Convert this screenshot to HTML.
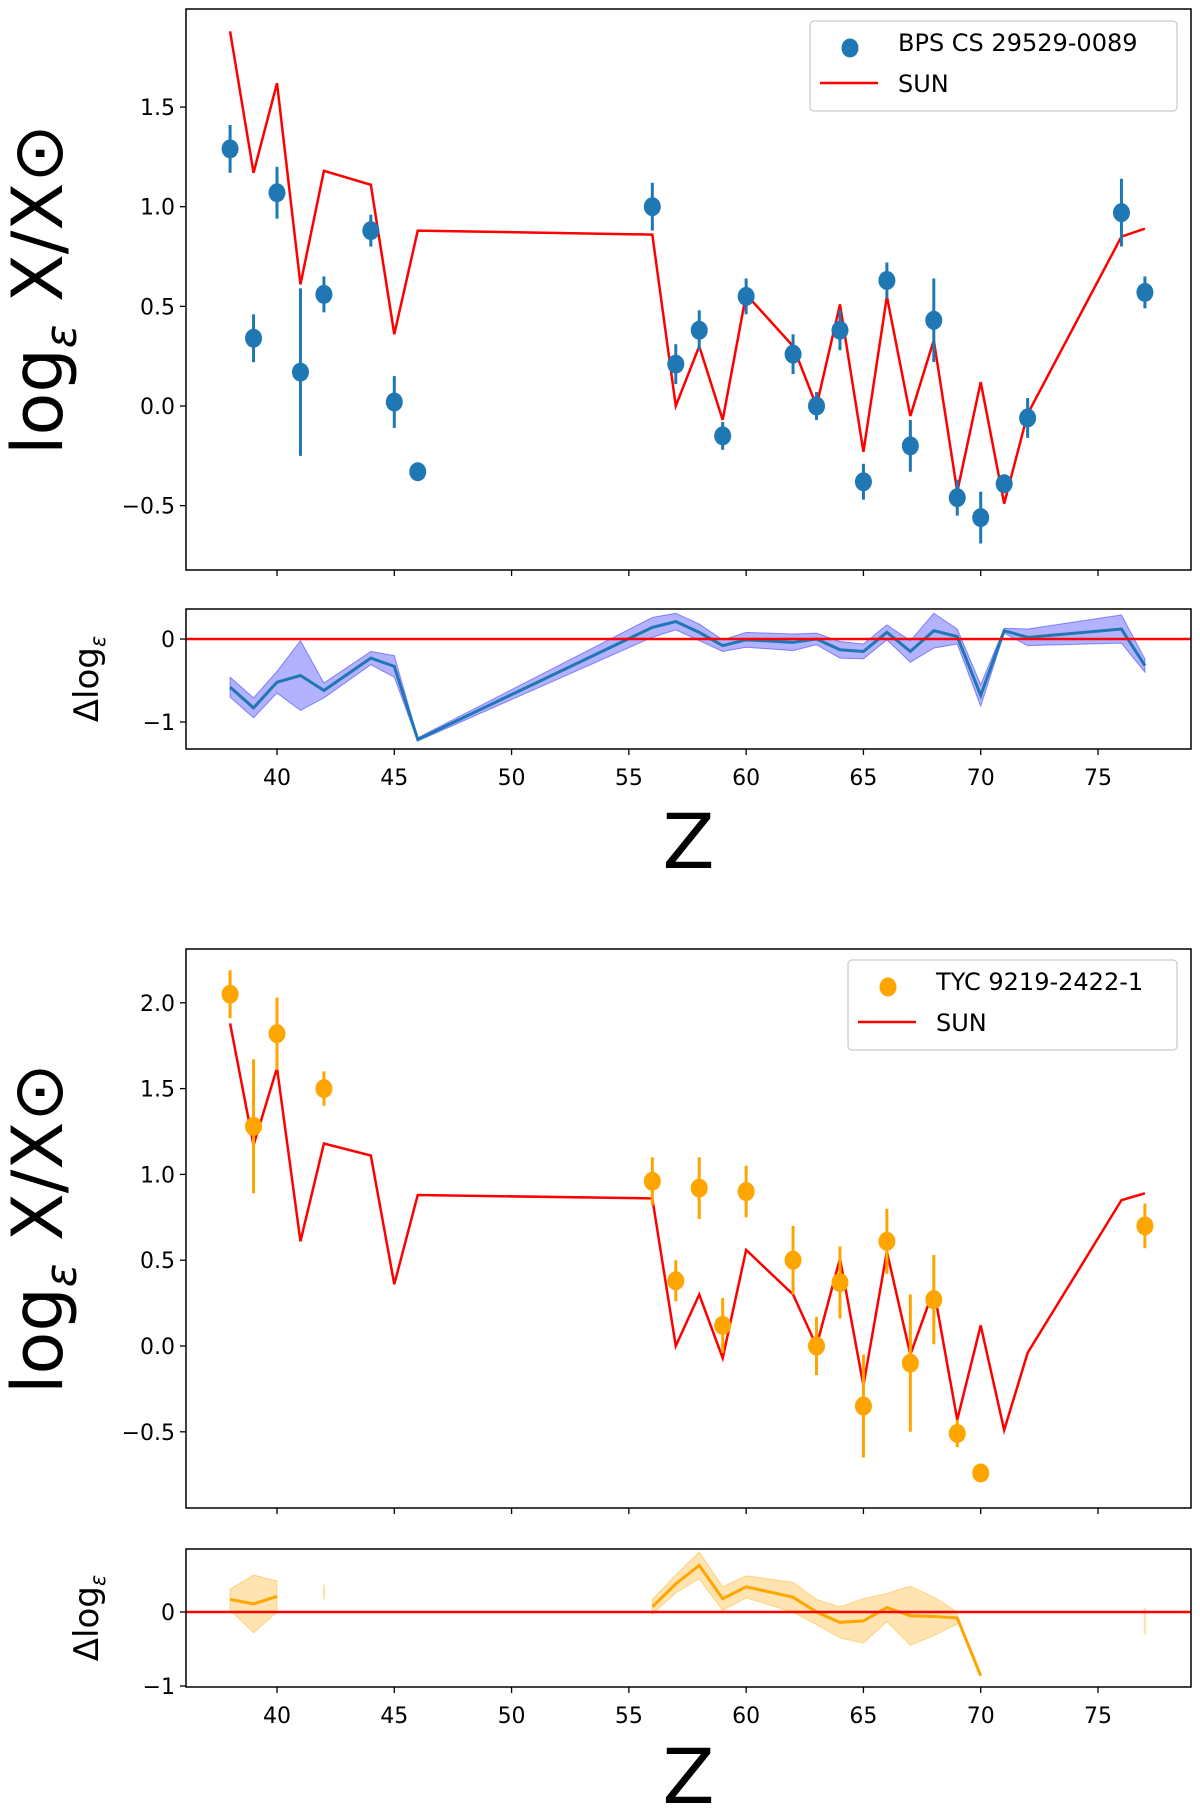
<!DOCTYPE html>
<html><head><meta charset="utf-8"><style>
html,body{margin:0;padding:0;background:#fff;}
svg{display:block;font-family:"DejaVu Sans","Liberation Sans",sans-serif;}
</style></head><body>
<svg id="chart" width="1200" height="1809" viewBox="0 0 1200 1809" xmlns="http://www.w3.org/2000/svg"></svg>
<script>
// ---- shared data ----
const zVals = [38,39,40,41,42,44,45,46,56,57,58,59,60,62,63,64,65,66,67,68,69,70,71,72,76,77];
const sunVals = [1.88,1.17,1.62,0.61,1.18,1.11,0.36,0.88,0.86,0.00,0.30,-0.07,0.56,0.30,0.00,0.51,-0.23,0.55,-0.05,0.33,-0.43,0.12,-0.49,-0.04,0.85,0.89];
const xTicks = [40,45,50,55,60,65,70,75];
// ---- star 1 (blue) ----
const s1Z = [38,39,40,41,42,44,45,46,56,57,58,59,60,62,63,64,65,66,67,68,69,70,71,72,76,77];
const s1Vals = [1.29,0.34,1.07,0.17,0.56,0.88,0.02,-0.33,1.00,0.21,0.38,-0.15,0.55,0.26,0.00,0.38,-0.38,0.63,-0.20,0.43,-0.46,-0.56,-0.39,-0.06,0.97,0.57];
const s1Err = [0.12,0.12,0.13,0.42,0.09,0.08,0.13,0.02,0.12,0.10,0.10,0.07,0.09,0.10,0.07,0.10,0.09,0.09,0.13,0.21,0.09,0.13,0.03,0.10,0.17,0.08];
const s1Res = [-0.58,-0.83,-0.52,-0.44,-0.62,-0.23,-0.33,-1.21,0.14,0.21,0.08,-0.08,-0.01,-0.04,0.00,-0.13,-0.15,0.08,-0.15,0.10,0.03,-0.68,0.10,0.02,0.12,-0.32];
const s1ResErr = [0.12,0.12,0.13,0.42,0.09,0.08,0.13,0.02,0.12,0.10,0.10,0.07,0.09,0.10,0.07,0.10,0.09,0.09,0.13,0.21,0.09,0.13,0.03,0.10,0.17,0.08];
const s1Ticks = [-0.5,0.0,0.5,1.0,1.5];
// ---- star 2 (orange) ----
const s2Z = [38,39,40,42,56,57,58,59,60,62,63,64,65,66,67,68,69,70,77];
const s2Vals = [2.05,1.28,1.82,1.50,0.96,0.38,0.92,0.12,0.90,0.50,0.00,0.37,-0.35,0.61,-0.10,0.27,-0.51,-0.74,0.70];
const s2Err = [0.14,0.39,0.21,0.10,0.14,0.12,0.18,0.16,0.15,0.20,0.17,0.21,0.30,0.19,0.40,0.26,0.08,0.05,0.13];
const s2ResZ = [38,39,40,null,42,null,56,57,58,59,60,62,63,64,65,66,67,68,69,70,null,77];
const s2Res = [0.17,0.11,0.21,null,0.27,null,0.07,0.38,0.63,0.18,0.34,0.20,0.00,-0.14,-0.12,0.06,-0.05,-0.06,-0.08,-0.86,null,-0.12];
const s2ResErr = [0.14,0.39,0.21,null,0.10,null,0.10,0.12,0.18,0.16,0.15,0.20,0.17,0.21,0.30,0.19,0.40,0.26,0.08,0,null,0.18];
const s2Ticks = [-0.5,0.0,0.5,1.0,1.5,2.0];
const resTicks = [-1,0];

const NS="http://www.w3.org/2000/svg";
const svg=document.getElementById('chart');
function mk(tag,attrs,parent){const e=document.createElementNS(NS,tag);for(const k in attrs)e.setAttribute(k,attrs[k]);(parent||svg).appendChild(e);return e;}
const X0=186,X1=1191;
function xs(z){return 277+(z-40)*(1098-277)/35;}

function yAxis(g,ticks,ys,fmt){
  ticks.forEach(t=>{const y=ys(t);
    const tk=mk('line',{x1:X0-6,x2:X0,y1:y,y2:y,stroke:'#000','stroke-width':1.3},g);
    
    const tx=mk('text',{x:X0-11,y:y+8,'font-size':22,'text-anchor':'end',fill:'#000'},g);
    tx.textContent=fmt(t);});
}
function xAxis(g,yb,labels){
  xTicks.forEach(t=>{const x=xs(t);
    const tk=mk('line',{x1:x,x2:x,y1:yb,y2:yb+6,stroke:'#000','stroke-width':1.3},g);
    
    if(labels){const tx=mk('text',{x:x,y:yb+36,'font-size':22,'text-anchor':'middle',fill:'#000'},g);
      tx.textContent=t;}});
}
function fmtNum2(t){const s=Math.abs(t).toFixed(1);return t<0?'\u2212'+s:s;}
function fmtInt(t){return t<0?'\u2212'+Math.abs(t):''+t;}

function mainPanel(name,top,bot,yZero,yUnit,ticks,sz,vals,errs,color,legendLabel,lg){
  const g=mk('g',{});
  const ys=v=>yZero-v*yUnit;
  mk('defs',{},g).innerHTML=`<clipPath id="clip-${name}"><rect x="${X0}" y="${top}" width="${X1-X0}" height="${bot-top}"/></clipPath>`;
  const pg=mk('g',{'clip-path':`url(#clip-${name})`},g);
  const sun=mk('polyline',{points:zVals.map((z,i)=>xs(z)+','+ys(sunVals[i])).join(' '),fill:'none',stroke:'#ff0000','stroke-width':2.5},pg);
  
  sz.forEach((z,i)=>{
    const eb=mk('line',{x1:xs(z),x2:xs(z),y1:ys(vals[i]-errs[i]),y2:ys(vals[i]+errs[i]),stroke:color,'stroke-width':3},pg);
    
    const c=mk('ellipse',{cx:xs(z),cy:ys(vals[i]),rx:8.5,ry:9.5,fill:color},pg);
    
  });
  const fr=mk('rect',{x:X0,y:top,width:X1-X0,height:bot-top,fill:'none',stroke:'#000','stroke-width':1.5},g);
  
  yAxis(g,ticks,ys,fmtNum2);xAxis(g,bot,false);
  const lgG=mk('g',{},g);
  const lb=mk('rect',{x:lg[0],y:lg[1],width:lg[2],height:lg[3],rx:4,fill:'#fff',stroke:'#ccc','stroke-width':1.3},lgG);
  
  const m=mk('ellipse',{cx:lg[0]+40,cy:lg[1]+27,rx:8.5,ry:9.5,fill:color},lgG);
  
  const t1=mk('text',{x:lg[0]+88,y:lg[1]+30,'font-size':24,fill:'#000'},lgG);t1.textContent=legendLabel;
  
  const l2=mk('line',{x1:lg[0]+10,x2:lg[0]+68,y1:lg[1]+62,y2:lg[1]+62,stroke:'#ff0000','stroke-width':2.5},lgG);
  
  const t2=mk('text',{x:lg[0]+88,y:lg[1]+71,'font-size':24,fill:'#000'},lgG);t2.textContent='SUN';
  
  const yl=mk('text',{x:0,y:0,'font-size':70,'text-anchor':'middle',fill:'#000',transform:`translate(62,${(top+bot)/2}) rotate(-90)`},g);
  yl.innerHTML='log<tspan font-size="44" dy="14" font-style="italic">\u03b5</tspan><tspan dy="-14"> X/X\u2299</tspan>';
  
}

function resPanel(name,top,bot,yZero,yUnit,rz,rv,re,lineColor,fillColor,fillOp,zLabelY){
  const g=mk('g',{});
  const ys=v=>yZero-v*yUnit;
  mk('defs',{},g).innerHTML=`<clipPath id="clip-${name}"><rect x="${X0}" y="${top}" width="${X1-X0}" height="${bot-top}"/></clipPath>`;
  const pg=mk('g',{'clip-path':`url(#clip-${name})`},g);
  const segs=[];let cur=[];
  rz.forEach((z,i)=>{if(z===null){if(cur.length)segs.push(cur);cur=[];}else cur.push(i);});
  if(cur.length)segs.push(cur);
  segs.forEach(s=>{
    const hasBand=s.filter(i=>re[i]>0);
    if(s.length===1){const i=s[0];
      const b=mk('line',{x1:xs(rz[i]),x2:xs(rz[i]),y1:ys(rv[i]-re[i]),y2:ys(rv[i]+re[i]),stroke:fillColor,'stroke-opacity':fillOp,'stroke-width':2.5},pg);
      return;}
    const up=hasBand.map(i=>xs(rz[i])+','+ys(rv[i]+re[i]));
    const dn=hasBand.slice().reverse().map(i=>xs(rz[i])+','+ys(rv[i]-re[i]));
    const b=mk('polygon',{points:up.concat(dn).join(' '),fill:fillColor,'fill-opacity':fillOp,stroke:fillColor,'stroke-opacity':fillOp+0.1},pg);
    
    const l=mk('polyline',{points:s.map(i=>xs(rz[i])+','+ys(rv[i])).join(' '),fill:'none',stroke:lineColor,'stroke-width':3},pg);
    
  });
  const zl=mk('line',{x1:X0,x2:X1,y1:ys(0),y2:ys(0),stroke:'#ff0000','stroke-width':2.5},g);
  
  const fr=mk('rect',{x:X0,y:top,width:X1-X0,height:bot-top,fill:'none',stroke:'#000','stroke-width':1.5},g);
  
  yAxis(g,resTicks,ys,fmtInt);xAxis(g,bot,true);
  const yl=mk('text',{x:0,y:0,'font-size':34,'text-anchor':'middle',fill:'#000',transform:`translate(98,${(top+bot)/2}) rotate(-90)`},g);
  yl.innerHTML='\u0394log<tspan font-size="21" dy="7" font-style="italic">\u03b5</tspan>';
  
  const xl=mk('text',{x:(X0+X1)/2,y:zLabelY,'font-size':76,'text-anchor':'middle',fill:'#000'},g);
  xl.textContent='Z';
}

mainPanel('top-main-panel',9,570,406,199.3,s1Ticks,s1Z,s1Vals,s1Err,'#1f77b4','BPS CS 29529-0089',[810,21,367,90]);
resPanel('top-residual-panel',609,749,639,83,s1Z,s1Res,s1ResErr,'#1f77b4','#0000ff',0.3,868);
mainPanel('bottom-main-panel',949,1508,1346,171.6,s2Ticks,s2Z,s2Vals,s2Err,'#ffa500','TYC 9219-2422-1',[848,960,329,90]);
resPanel('bottom-residual-panel',1549,1687,1612,74,s2ResZ,s2Res,s2ResErr,'#ffa500','#ffa500',0.3,1803);
</script>
</body></html>
